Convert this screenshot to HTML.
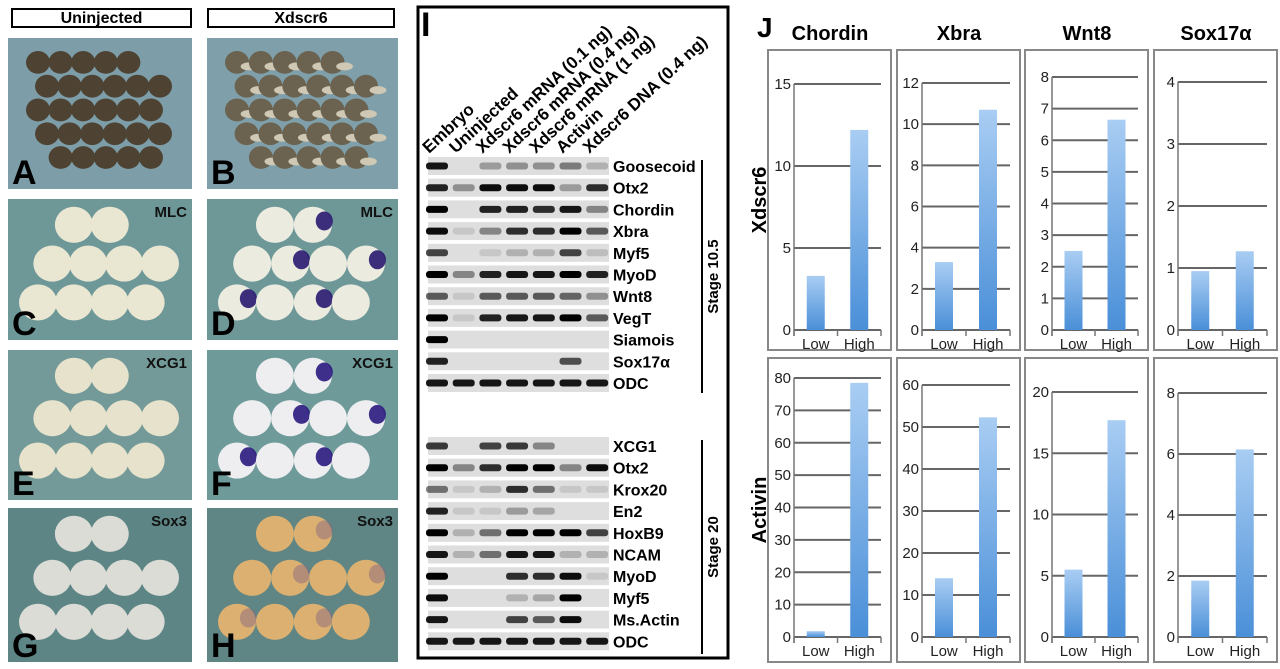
<!DOCTYPE html>
<html><head><meta charset="utf-8">
<style>
body{margin:0;width:1280px;height:669px;background:#fff;position:relative;overflow:hidden;font-family:"Liberation Sans",sans-serif}
.hdr{position:absolute;top:8px;height:20px;border:2px solid #000;box-sizing:border-box;font-weight:bold;font-size:16px;text-align:center;line-height:17px}
svg text{font-family:"Liberation Sans",sans-serif}
</style></head><body>
<div class="hdr" style="left:11px;width:181px">Uninjected</div>
<div class="hdr" style="left:207px;width:188px">Xdscr6</div>
<svg id="photos" width="410" height="669" style="position:absolute;left:0;top:0"><defs></defs></svg>
<svg id="gel" width="330" height="669" style="position:absolute;left:410px;top:0"></svg>
<svg id="bars" width="540" height="669" style="position:absolute;left:740px;top:0">
<defs><linearGradient id="bg" x1="0" y1="0" x2="0" y2="1"><stop offset="0" stop-color="#a9cdf3"/><stop offset="1" stop-color="#4a8fd8"/></linearGradient></defs>
</svg>
<script>
var NS='http://www.w3.org/2000/svg';
function mk(p,t,a){var e=document.createElementNS(NS,t);for(var k in a)e.setAttribute(k,a[k]);p.appendChild(e);return e;}
// ---------- photos ----------
var ph=document.getElementById('photos');var defs=ph.querySelector('defs');
var panels=[
 ['A',8,38,184,151,'#7d9ea9','#4e4232','#8a7a60',''],
 ['B',207,38,191,151,'#7fa0aa','#6b6250','#cfc8b4',''],
 ['C',8,199,184,141,'#6e9898','#e9e6d2','#dcdac8','MLC'],
 ['D',207,199,191,141,'#6e9898','#ecebe0','#2a1a70','MLC'],
 ['E',8,350,184,150,'#739a98','#e6e2cc','#ddd8c0','XCG1'],
 ['F',207,350,191,150,'#6e9a9a','#eeeef0','#2a1a80','XCG1'],
 ['G',8,508,184,154,'#5e8585','#dcdcd6','#d0d0cc','Sox3'],
 ['H',207,508,191,154,'#5f8585','#dcb070','#8a6a80','Sox3']];
panels.forEach(function(p,i){
 var cp=mk(defs,'clipPath',{id:'cp'+i});mk(cp,'rect',{x:p[1],y:p[2],width:p[3],height:p[4]});
 var g=mk(ph,'g',{'clip-path':'url(#cp'+i+')'});
 
 
 mk(g,'rect',{x:p[1],y:p[2],width:p[3],height:p[4],fill:p[5]});
 var cols=i<2?6:4,rows=i<2?5:3,r=i<2?12:19;
 for(var a=0;a<rows;a++)for(var b=0;b<cols;b++){
  if(i>=2&&(a==0&&(b==0||b==3)))continue;
  if(i<2&&((a==0&&b==5)||(a==4&&b==0)))continue;
  var cx=p[1]+30+(b+(a%2)*0.4)*(p[3]-62)/(cols-0.6), cy=p[2]+22+a*(p[4]-44)/(rows-0.5)+r*0.2;
  mk(g,'ellipse',{cx:cx,cy:cy,rx:r,ry:r*0.95,fill:p[6]});
  if(i==3||i==5||i==7){if((a+b)%2==0)mk(g,'ellipse',{cx:cx+r*0.6,cy:cy-r*0.2,rx:r*0.45,ry:r*0.5,fill:p[7],opacity:i==7?0.5:0.9});}
  if(i==1)mk(g,'ellipse',{cx:cx+r,cy:cy+4,rx:r*0.7,ry:4,fill:p[7]});
 }
 var t=mk(g,'text',{x:p[1]+4,y:p[2]+p[4]-5,'font-size':34,'font-weight':'bold',fill:'#000'});t.textContent=p[0];
 if(p[8]){var s=mk(g,'text',{x:p[1]+p[3]-5,y:p[2]+18,'font-size':15,'font-weight':'bold','text-anchor':'end',fill:'#111'});s.textContent=p[8];}
});
// ---------- gel ----------
var lanes=['Embryo','Uninjected','Xdscr6 mRNA (0.1 ng)','Xdscr6 mRNA (0.4 ng)','Xdscr6 mRNA (1 ng)','Activin','Xdscr6 DNA (0.4 ng)'];
var genes1=['Goosecoid','Otx2','Chordin','Xbra','Myf5','MyoD','Wnt8','VegT','Siamois','Sox17\u03b1','ODC'];
var int1=[[0.9,0,0.3,0.35,0.35,0.45,0.2],[0.85,0.35,0.95,0.95,0.95,0.3,0.8],[1,0,0.85,0.85,0.8,0.9,0.4],[0.95,0.1,0.4,0.8,0.8,1,0.6],[0.7,0,0.1,0.2,0.2,0.7,0.15],[1,0.4,0.85,0.9,0.9,1,0.85],[0.6,0.1,0.6,0.6,0.6,0.55,0.35],[1,0.1,0.85,0.9,0.9,1,0.6],[1,0,0,0,0,0,0],[0.85,0,0,0,0,0.65,0],[0.9,0.9,0.9,0.9,0.9,0.9,0.9]];
var genes2=['XCG1','Otx2','Krox20','En2','HoxB9','NCAM','MyoD','Myf5','Ms.Actin','ODC'];
var int2=[[0.75,0,0.7,0.75,0.4,0,0],[1,0.4,0.8,1,1,0.4,0.95],[0.5,0.1,0.2,0.8,0.5,0.1,0.1],[0.85,0.1,0.1,0.3,0.25,0,0],[1,0.2,0.5,1,1,1,0.7],[0.9,0.2,0.5,0.9,0.9,0.2,0.2],[1,0,0,0.8,0.8,0.95,0.1],[0.95,0,0,0.2,0.25,1,0],[0.9,0,0,0.7,0.6,0.95,0],[0.9,0.9,0.9,0.9,0.9,0.9,0.9]];
var gel=document.getElementById('gel');var OX=410;
mk(gel,'rect',{x:418-OX,y:7,width:310,height:651,fill:'none',stroke:'#000','stroke-width':3});
var I=mk(gel,'text',{x:421-OX,y:36,'font-size':34,'font-weight':'bold'});I.textContent='I';
function laneX(j){return 437+j*26.7-OX;}
lanes.forEach(function(l,j){var x=laneX(j)-8;var t=mk(gel,'text',{x:x,y:154,'font-size':17,'font-weight':'bold',transform:'rotate(-43 '+x+' 154)'});t.textContent=l;});
function block(genes,ints,y0,stage,sy0,sy1){
 genes.forEach(function(gname,i){var y=y0+i*21.7;
  mk(gel,'rect',{x:428-OX,y:y,width:181,height:18,fill:'#dedede'});
  ints[i].forEach(function(v,j){if(v>0.02){var b=mk(gel,'rect',{x:laneX(j)-11,y:y+5.5,width:22,height:7,rx:3,fill:'#000',opacity:v});}});
  var t=mk(gel,'text',{x:613-OX,y:y+15,'font-size':16,'font-weight':'bold'});t.textContent=gname;});
 mk(gel,'line',{x1:702-OX,x2:702-OX,y1:sy0,y2:sy1,stroke:'#000','stroke-width':2});
 var cy=(sy0+sy1)/2;var t=mk(gel,'text',{x:718-OX,y:cy,'font-size':15,'font-weight':'bold','text-anchor':'middle',transform:'rotate(-90 '+(718-OX)+' '+cy+')'});t.textContent=stage;
}
block(genes1,int1,157,'Stage 10.5',160,393);
block(genes2,int2,437,'Stage 20',440,654);
// ---------- bar charts ----------
var cats=['Low','High'];
var titles=['Chordin','Xbra','Wnt8','Sox17\u03b1'];
var xdscr6Vals=[[3.3,12.2],[3.3,10.7],[2.5,6.65],[0.95,1.27]];
var activinVals=[[1.8,78.5],[14,52.3],[5.5,17.7],[1.85,6.15]];
var topMax=[15,12,8,4], topStep=[5,2,1,1];
var botMax=[80,60,20,8], botStep=[10,10,5,2];
var bs=document.getElementById('bars');var BX=740;
var J=mk(bs,'text',{x:757-BX,y:37,'font-size':28,'font-weight':'bold'});J.textContent='J';
var boxX=[768,897,1025,1154], axOff=[26,25,27,24];
var rowsDef=[{y0:50,y1:350,yt:[84,83,77,82],yb:330,vals:xdscr6Vals,max:topMax,step:topStep,name:'Xdscr6'},
 {y0:358,y1:662,yt:[378,385,392,393],yb:637,vals:activinVals,max:botMax,step:botStep,name:'Activin'}];
titles.forEach(function(t,k){var e=mk(bs,'text',{x:boxX[k]+62-BX,y:40,'font-size':20,'font-weight':'bold','text-anchor':'middle'});e.textContent=t;});
rowsDef.forEach(function(R){
 var cy=(R.y0+R.y1)/2;var rt=mk(bs,'text',{x:766-BX,y:cy,'font-size':20,'font-weight':'bold','text-anchor':'middle',transform:'rotate(-90 '+(766-BX)+' '+cy+')'});rt.textContent=R.name;
 for(var k=0;k<4;k++){
  var x0=boxX[k]-BX;
  mk(bs,'rect',{x:x0,y:R.y0,width:123,height:R.y1-R.y0,fill:'#fff',stroke:'#888','stroke-width':2});
  var ax=x0+axOff[k], ar=x0+113, yt=R.yt[k], yb=R.yb, mx=R.max[k];
  var ys=function(v){return yb-(v/mx)*(yb-yt);};
  for(var v=0;v<=mx+1e-9;v+=R.step[k]){var y=ys(v);
   var gl=mk(bs,'line',{x1:ax,x2:ar,y1:y,y2:y,stroke:'#666','stroke-width':2});
   var tl=mk(bs,'text',{x:ax-3,y:y+5,'font-size':15,'text-anchor':'end',fill:'#222'});tl.textContent=v;}
  mk(bs,'line',{x1:ax,x2:ax,y1:yt,y2:yb+6,stroke:'#777','stroke-width':1.5});
  var pw=ar-ax;
  [0,0.5,1].forEach(function(f){mk(bs,'line',{x1:ax+f*pw,x2:ax+f*pw,y1:yb,y2:yb+6,stroke:'#777','stroke-width':1.5});});
  cats.forEach(function(c,ci){var cx=ax+pw*(ci*0.5+0.25);var v=R.vals[k][ci];
   var b=mk(bs,'rect',{x:cx-9,y:ys(v),width:18,height:yb-ys(v),fill:'url(#bg)'});
   
   
   var cl=mk(bs,'text',{x:cx,y:yb+19,'font-size':15,'text-anchor':'middle',fill:'#222'});cl.textContent=c;});
 }
});
</script>
</body></html>
